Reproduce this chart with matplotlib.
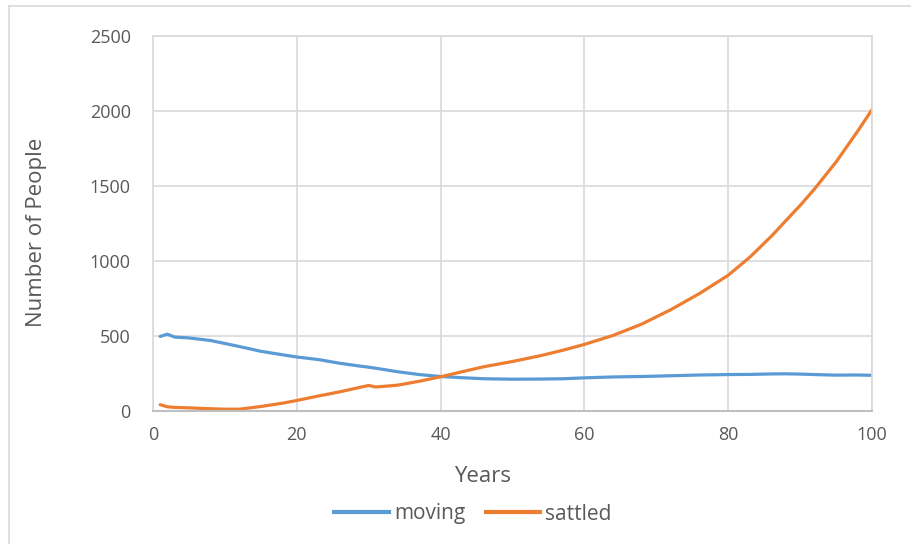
import matplotlib
matplotlib.use("Agg")
import matplotlib.pyplot as plt
from matplotlib.lines import Line2D

# yearly counts (sampled years)
years = [1, 2, 3, 5, 8, 10, 12, 15, 18, 20, 23, 26, 29, 30, 31, 34, 37, 40,
         43, 46, 50, 54, 57, 60, 64, 68, 72, 76, 80, 83, 86, 88, 90, 92, 95, 98, 100]
moving = [497, 512, 493, 487, 470, 450, 430, 398, 375, 360, 343, 318, 298, 292,
          285, 262, 243, 230, 222, 215, 212, 213, 215, 221, 227, 230, 235, 240,
          243, 244, 247, 248, 246, 243, 239, 240, 238]
sattled = [42, 28, 24, 21, 15, 12, 12, 30, 52, 70, 100, 128, 160, 170, 160, 172,
           198, 228, 262, 295, 330, 370, 405, 444, 504, 580, 675, 783, 905, 1025,
           1165, 1268, 1370, 1480, 1660, 1865, 2009]

x_ticks = [0, 20, 40, 60, 80, 100]
y_ticks = [0, 500, 1000, 1500, 2000, 2500]

plt.rcParams['font.family'] = ['Open Sans', 'DejaVu Sans']
txt = '#595959'
grid = '#D9D9D9'

fig = plt.figure(figsize=(9.11, 5.44), dpi=100)
ax = fig.add_axes([153 / 911, 1 - 411 / 544, (872 - 153) / 911, (411 - 36) / 544])

ax.plot(years, moving, color='#5B9BD5', lw=2.3, solid_capstyle='round', label='moving')
ax.plot(years, sattled, color='#ED7D31', lw=2.3, solid_capstyle='round', label='sattled')

ax.set_xlim(0, 100)
ax.set_ylim(0, 2500)
ax.set_xticks(x_ticks)
ax.set_yticks(y_ticks)
ax.grid(True, color=grid, lw=1.2)
ax.set_axisbelow(True)
for s in ['top', 'right', 'left']:
    ax.spines[s].set_color(grid)
    ax.spines[s].set_linewidth(1.2)
ax.spines['bottom'].set_color('#BFBFBF')
ax.spines['bottom'].set_linewidth(1.5)
ax.tick_params(length=0, labelsize=13, labelcolor=txt)
ax.tick_params(axis='y', pad=16)
ax.tick_params(axis='x', pad=11)

ax.set_xlabel('Years', fontsize=16, color=txt, labelpad=16)
ax.set_ylabel('Number of People', fontsize=16, color=txt, labelpad=31)
ax.xaxis.label.set_x(0.458)
ax.yaxis.label.set_y(0.477)

handles = [Line2D([], [], color='#5B9BD5', lw=3),
           Line2D([], [], color='#ED7D31', lw=3)]
fig.legend(handles, ['moving', 'sattled'], loc='center', bbox_to_anchor=(473 / 911, 1 - 514 / 544),
           ncol=2, frameon=False, fontsize=15, labelcolor=txt, handlelength=2.6,
           handletextpad=0.25, columnspacing=1.0)

# chart border (left and top edges)
fig.add_artist(Line2D([8.5 / 911, 8.5 / 911], [0, 1 - 6 / 544], color=grid, lw=1.2))
fig.add_artist(Line2D([8.5 / 911, 1], [1 - 6 / 544, 1 - 6 / 544], color=grid, lw=1.2))

fig.savefig('out.png', dpi=100)
